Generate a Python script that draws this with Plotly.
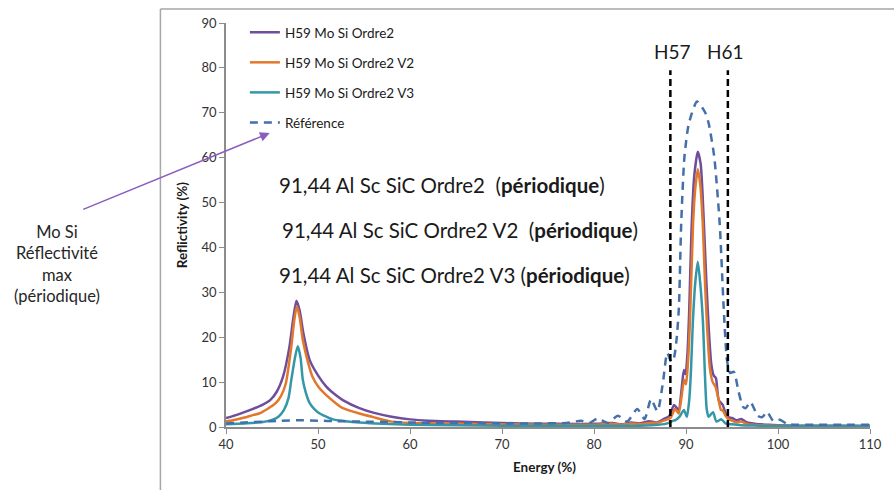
import plotly.graph_objects as go

# ---------------- data ----------------
ordre2_x = [40, 41, 42, 43, 44, 44.8, 45.5, 46.2, 46.9, 47.3, 47.65, 48.0, 48.4, 49.1, 50, 50.9, 52, 52.7,
            54.5, 56, 58, 60, 62, 65, 68, 72, 76, 80, 82, 83, 84, 85, 86, 86.8, 87.6, 88.2, 88.7, 89.2, 89.5,
            89.77, 89.95, 90.15, 90.35, 90.6, 90.9, 91.28, 91.6, 91.93, 92.2, 92.47, 92.75, 93.0, 93.25, 93.55,
            94.0, 94.3, 94.6, 95.0, 95.5, 96, 96.6, 97.3, 98, 99, 100, 102, 105, 110]
ordre2_y = [2.0, 2.6, 3.3, 4.1, 5.0, 6.0, 7.8, 11.2, 17.9, 24.0, 28.1, 26.0, 21.0, 14.9, 11.5, 9.0, 7.0, 6.0,
            4.2, 3.2, 2.3, 1.7, 1.4, 1.2, 1.0, 0.8, 0.7, 0.7, 0.9, 0.6, 1.0, 0.8, 1.3, 1.0, 1.8, 2.5, 4.9, 3.8, 8.0,
            12.7, 11.8, 16.0, 26.0, 44.0, 56.0, 61.3, 58.5, 46.0, 33.0, 22.0, 14.0, 11.5, 10.9, 6.0,
            4.9, 3.0, 2.2, 2.0, 1.5, 1.8, 1.0, 0.8, 0.6, 0.5, 0.4, 0.3, 0.3, 0.2]

v2_x = [40, 41, 42, 43, 43.6, 44.5, 45.4, 46, 46.5, 47.1, 47.4, 47.7, 48.0, 48.35, 48.9, 49.4, 50.1, 50.9, 52,
        52.7, 54.5, 56, 58, 60, 63, 66, 70, 75, 80, 82, 83, 84, 85, 86, 87, 87.7, 88.3, 88.8, 89.2, 89.5, 89.8,
        90.0, 90.2, 90.42, 90.77, 91.0, 91.28, 91.55, 91.82, 92.05, 92.28, 92.6, 92.9, 93.2, 93.5, 93.8, 94.0,
        94.3, 94.6, 95.0, 95.5, 96, 96.6, 97.3, 98, 100, 103, 110]
v2_y = [1.2, 1.6, 2.1, 2.7, 3.0, 4.0, 5.3, 7.0, 9.7, 17.9, 23.5, 26.9, 24.5, 19.4, 14.5, 11.2, 8.8, 7.1, 5.2,
        4.2, 3.0, 2.2, 1.2, 0.9, 0.8, 0.7, 0.6, 0.5, 0.5, 0.7, 0.5, 0.8, 0.6, 0.9, 1.0, 1.5, 2.0, 4.0, 3.0, 6.5, 10.5,
        9.5, 14.0, 23.0, 45.4, 53.0, 57.4, 54.0, 45.4, 33.0, 23.0, 13.0, 10.0, 9.0, 6.5, 3.8, 3.7,
        2.5, 1.8, 1.4, 1.0, 1.2, 0.7, 0.5, 0.4, 0.3, 0.2, 0.2]

v3_x = [40, 42, 44, 45, 45.7, 46.3, 46.8, 47.1, 47.5, 47.8, 48.1, 48.35, 48.7, 49.1, 49.6, 50.2, 50.9, 51.6,
        53, 54.5, 57, 60, 65, 70, 80, 85, 87, 88, 88.5, 88.9, 89.3, 89.77, 90.1, 90.35, 90.55, 90.74, 91.0, 91.28,
        91.55, 91.85, 92.05, 92.25, 92.45, 92.7, 92.95, 93.3, 93.85, 94.3, 95, 96, 98, 100, 110]
v3_y = [0.6, 0.8, 1.1, 1.6, 2.3, 3.8, 6.5, 10.5, 15.5, 18.0, 15.5, 10.5, 7.5, 5.3, 4.0, 3.0, 2.3, 1.7,
        1.3, 1.0, 0.7, 0.5, 0.4, 0.3, 0.3, 0.3, 0.5, 0.8, 1.3, 1.6, 2.3, 3.8, 2.3, 6.0, 13.0, 23.1, 32.0, 36.8,
        32.0, 23.1, 12.0, 4.0, 2.3, 2.8, 3.3, 1.2, 1.7, 0.8, 0.6, 0.4, 0.3, 0.2, 0.2]

ref_x = [40, 42, 44, 46, 48, 50, 52, 55, 58, 60, 63, 66, 70, 74, 77, 78.6, 79.5, 80.4, 81.5, 82.6, 83.6, 84.7,
         85.5, 86.2, 86.9, 87.5, 87.96, 88.4, 88.7, 89.0, 89.23, 89.48, 89.83, 90.31, 91.2, 92.1, 92.47, 93.07,
         93.66, 94.09, 94.45, 94.8, 95.2, 95.7, 96.2, 96.5, 97.0, 97.8, 98.3, 98.8, 99.5, 100.2, 101, 102, 104,
         107, 110]
ref_y = [0.8, 1.0, 1.2, 1.4, 1.5, 1.4, 1.3, 1.2, 1.1, 1.0, 0.9, 0.9, 0.8, 0.8, 0.9, 1.4, 0.9, 1.9, 0.9, 2.5, 1.2,
         4.0, 1.8, 6.2, 3.5, 10.0, 16.5, 14.5, 15.5, 20.0, 26.8, 45.4, 60.2, 67.6, 72.5, 70.0, 67.6, 60.2,
         45.4, 26.8, 15.0, 12.0, 12.3, 8.0, 4.5, 4.2, 5.6, 2.5, 2.2, 3.4, 1.3, 1.6, 0.7, 0.5, 0.5,
         0.5, 0.5]

series_names = ["H59 Mo Si Ordre2", "H59 Mo Si Ordre2 V2", "H59 Mo Si Ordre2 V3", "Référence"]

harmonic_labels = ["H57", "H61"]
harmonic_energy = [88.3, 94.55]
harmonic_top = 79.5

x_ticks = [40, 50, 60, 70, 80, 90, 100, 110]
y_ticks = [0, 10, 20, 30, 40, 50, 60, 70, 80, 90]

text_lines = [
    "91,44 Al Sc SiC Ordre2  (<b>périodique</b>)",
    "91,44 Al Sc SiC Ordre2 V2  (<b>périodique</b>)",
    "91,44 Al Sc SiC Ordre2 V3 (<b>périodique</b>)",
]
side_note = "Mo Si<br>Réflectivité<br>max<br>(périodique)"

# ---------------- figure ----------------
FONT = "Lato"
colors = ["#6F4E9C", "#E2782C", "#3497A8", "#4470AA"]

fig = go.Figure()
series = [(ordre2_x, ordre2_y), (v2_x, v2_y), (v3_x, v3_y), (ref_x, ref_y)]
for i, ((xs, ys), name) in enumerate(zip(series, series_names)):
    fig.add_trace(go.Scatter(
        x=xs, y=ys, mode="lines", name=name, legendgroup=f"g{i}",
        line=dict(color=colors[i], width=2.5, dash="8px,6px" if i == 3 else "solid",
                  shape="spline", smoothing=0.6),
    ))

for lab, e in zip(harmonic_labels, harmonic_energy):
    fig.add_trace(go.Scatter(
        x=[e, e], y=[0, harmonic_top], mode="lines", showlegend=False,
        line=dict(color="black", width=2.5, dash="7px,4px"), hoverinfo="skip",
    ))

W, H = 894, 490
L, R, T, B = 226, 20, 23, 63
pw, ph = W - L - R, H - T - B

def px(xp):
    return (xp - L) / pw

def py(yp):
    return (H - B - yp) / ph

annotations = []
annotations.append(dict(x=harmonic_energy[0], y=py(52), xref="x", yref="paper", text=harmonic_labels[0],
                        showarrow=False, xshift=2, xanchor="center", yanchor="middle",
                        font=dict(family=FONT, size=19, color="#1a1a1a")))
annotations.append(dict(x=harmonic_energy[1], y=py(52), xref="x", yref="paper", text=harmonic_labels[1],
                        showarrow=False, xshift=-2, xanchor="center", yanchor="middle",
                        font=dict(family=FONT, size=19, color="#1a1a1a")))
for txt, xs, ys in zip(text_lines, [277, 280, 277], [185, 230, 275]):
    annotations.append(dict(x=px(xs), y=py(ys), xref="paper", yref="paper", text=txt, showarrow=False,
                            xanchor="left", yanchor="middle", font=dict(family=FONT, size=20.5, color="#1a1a1a")))
annotations.append(dict(x=px(56), y=py(264), xref="paper", yref="paper", text=side_note, showarrow=False,
                        xanchor="center", yanchor="middle", align="center",
                        font=dict(family=FONT, size=16.5, color="#262626")))
# arrow (head at the legend, tail near the side note)
annotations.append(dict(x=px(270), y=py(133), xref="paper", yref="paper", ax=82 - 270, ay=210 - 133,
                        axref="pixel", ayref="pixel", text="", showarrow=True, arrowhead=2, arrowsize=1.3,
                        arrowwidth=1.5, arrowcolor="#8A5CC0"))
# axis titles
annotations.append(dict(x=px(182), y=py(225), xref="paper", yref="paper", text="<b>Reflictivity (%)</b>",
                        textangle=-90, showarrow=False, xanchor="center", yanchor="middle",
                        font=dict(family=FONT, size=13.5, color="#1a1a1a")))
annotations.append(dict(x=px(546), y=py(467), xref="paper", yref="paper", text="<b>Energy (%)</b>",
                        showarrow=False, xanchor="center", yanchor="middle",
                        font=dict(family=FONT, size=13.5, color="#1a1a1a")))

shapes = [
    dict(type="line", xref="paper", yref="paper", x0=px(160), x1=px(160), y0=py(9), y1=py(495),
         line=dict(color="#A6A6A6", width=1.5)),
    dict(type="line", xref="paper", yref="paper", x0=px(160), x1=px(900), y0=py(9), y1=py(9),
         line=dict(color="#A6A6A6", width=1.5)),
]

fig.update_layout(
    width=W, height=H, margin=dict(l=L, r=R, t=T, b=B),
    paper_bgcolor="white", plot_bgcolor="white",
    font=dict(family=FONT, color="#333333"),
    showlegend=True,
    legend=dict(x=px(245), y=py(17), xanchor="left", yanchor="top", bgcolor="rgba(0,0,0,0)",
                font=dict(family=FONT, size=13.5, color="#1a1a1a"), tracegroupgap=9.5,
                traceorder="grouped"),
    annotations=annotations, shapes=shapes,
    xaxis=dict(range=[40, 110], tickvals=x_ticks, showgrid=False, zeroline=False,
               showline=True, linecolor="#8C8C8C", linewidth=1.5, ticks="outside", ticklen=5,
               tickcolor="#8C8C8C", tickfont=dict(family=FONT, size=13, color="#333333")),
    yaxis=dict(range=[0, 90], tickvals=y_ticks, showgrid=False, zeroline=False,
               showline=True, linecolor="#8C8C8C", linewidth=1.5, ticks="outside", ticklen=5,
               tickcolor="#8C8C8C", tickfont=dict(family=FONT, size=13, color="#333333")),
)

fig.write_html("out.html")
